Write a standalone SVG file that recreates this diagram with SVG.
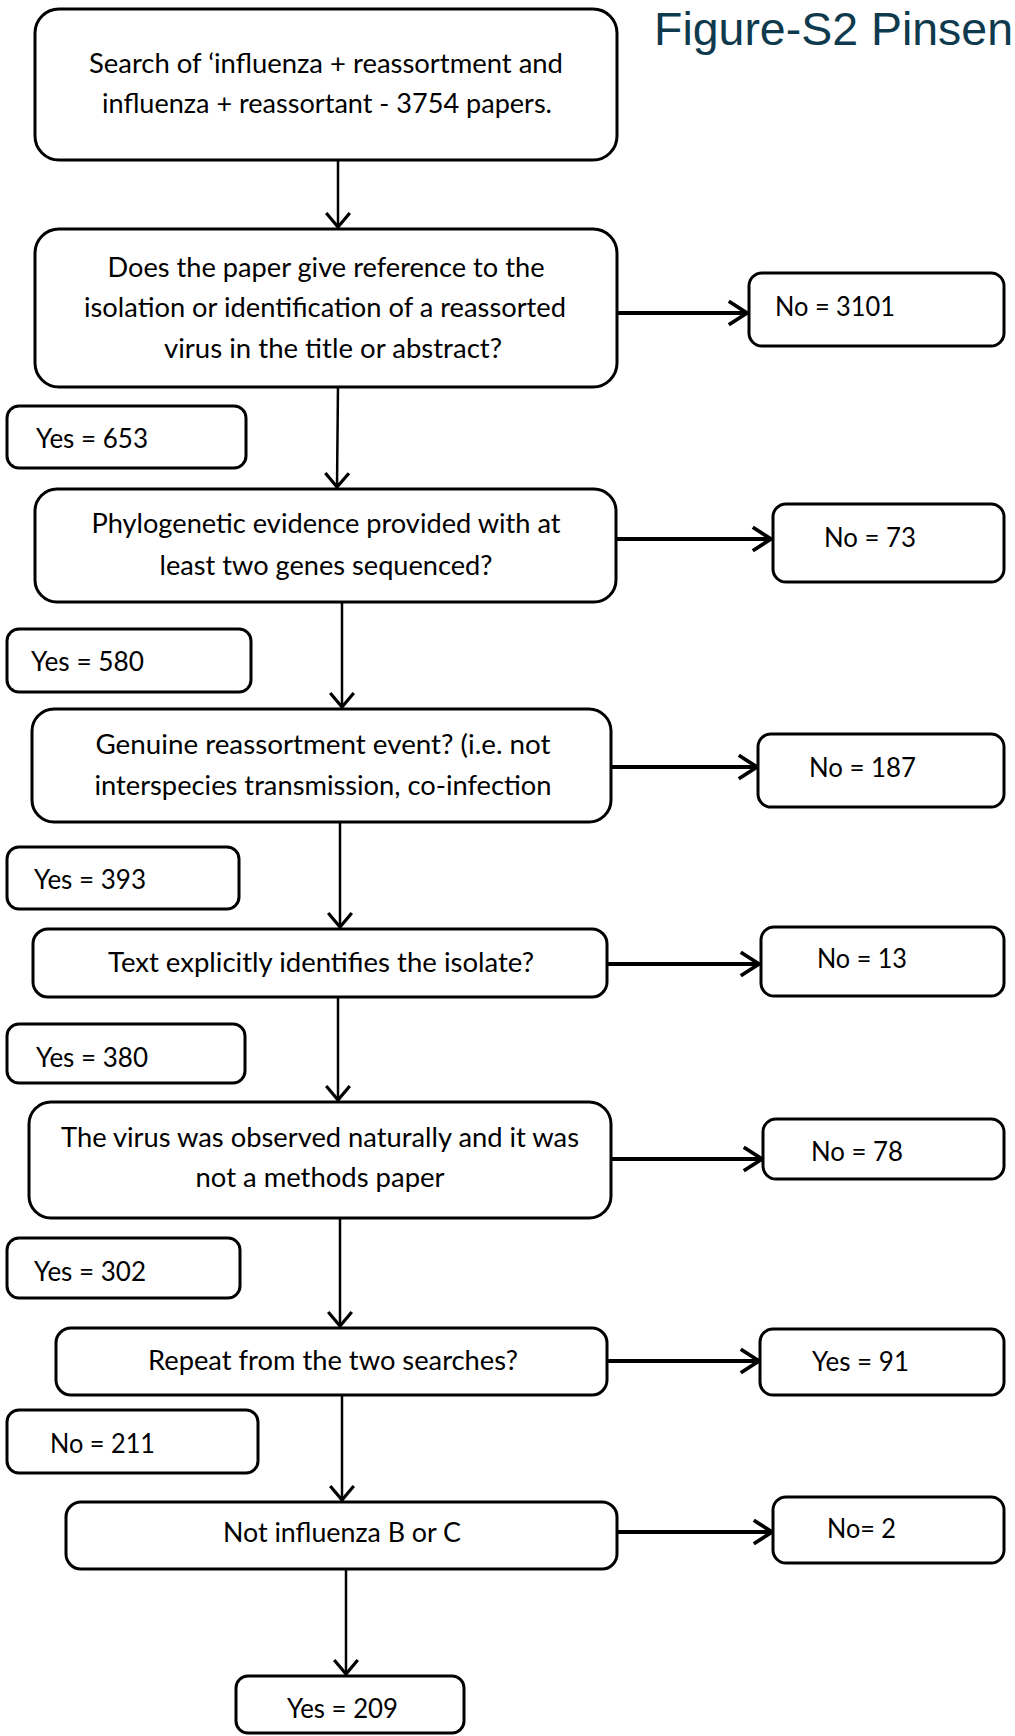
<svg xmlns="http://www.w3.org/2000/svg" width="1015" height="1736" viewBox="0 0 1015 1736">
<style>
  .box { fill: #ffffff; stroke: #000000; stroke-width: 3; }
  .t { font-family: Lato, "Liberation Sans", sans-serif; font-size: 26px; fill: #000000; }
  .c { text-anchor: middle; }
  .v { stroke: #000000; stroke-width: 2.5; fill: none; marker-end: url(#av); }
  .h { stroke: #000000; stroke-width: 4; fill: none; marker-end: url(#ah); }
  .title { font-family: "Liberation Sans", Arial, sans-serif; font-size: 46px; fill: #0f3a4e; }
</style>
<defs>
  <marker id="av" markerUnits="userSpaceOnUse" markerWidth="30" markerHeight="30" viewBox="-16 -14 20 28" refX="0" refY="0" orient="auto">
    <path d="M-13,-11 L0,0 L-13,11" fill="none" stroke="#000000" stroke-width="3"/>
  </marker>
  <marker id="ah" markerUnits="userSpaceOnUse" markerWidth="30" markerHeight="30" viewBox="-20 -14 24 28" refX="0" refY="0" orient="auto">
    <path d="M-17,-11 L0,0 L-17,11" fill="none" stroke="#000000" stroke-width="3.5"/>
  </marker>
</defs>
<rect width="1015" height="1736" fill="#ffffff"/>

<text class="title" x="654" y="45" textLength="359" lengthAdjust="spacingAndGlyphs">Figure-S2 Pinsen</text>

<g id="connectors">
  <path class="v" d="M338,160 L338,227"/>
  <path class="v" d="M338,385 L337,487"/>
  <path class="v" d="M342,602 L342,707"/>
  <path class="v" d="M340,822 L340,927"/>
  <path class="v" d="M338,997 L338,1100"/>
  <path class="v" d="M340,1218 L340,1326"/>
  <path class="v" d="M342,1395 L342,1500"/>
  <path class="v" d="M346,1569 L346,1674"/>
  <path class="h" d="M617,313 L747,313"/>
  <path class="h" d="M616,539 L771,539"/>
  <path class="h" d="M611,767 L757,767"/>
  <path class="h" d="M607,964 L759,964"/>
  <path class="h" d="M611,1159 L762,1159"/>
  <path class="h" d="M607,1361 L759,1361"/>
  <path class="h" d="M617,1532 L772,1532"/>
</g>

<g id="n-search">
  <rect class="box" x="35" y="9" width="582" height="151" rx="24"/>
  <text class="t c" x="326" y="73" textLength="474" lengthAdjust="spacingAndGlyphs">Search of ‘influenza + reassortment and</text>
  <text class="t c" x="327" y="113" textLength="450" lengthAdjust="spacingAndGlyphs">influenza + reassortant - 3754 papers.</text>
</g>

<g id="n-reference">
  <rect class="box" x="35" y="229" width="582" height="158" rx="24"/>
  <text class="t c" x="326" y="277" textLength="437" lengthAdjust="spacingAndGlyphs">Does the paper give reference to the</text>
  <text class="t c" x="325" y="317" textLength="482" lengthAdjust="spacingAndGlyphs">isolation or identification of a reassorted</text>
  <text class="t c" x="333" y="358" textLength="338" lengthAdjust="spacingAndGlyphs">virus in the title or abstract?</text>
</g>

<g id="n-no3101">
  <rect class="box" x="749" y="273" width="255" height="73" rx="13"/>
  <text class="t" x="775" y="316" textLength="120" lengthAdjust="spacingAndGlyphs">No = 3101</text>
</g>

<g id="n-yes653">
  <rect class="box" x="7" y="406" width="239" height="62" rx="12"/>
  <text class="t" x="36" y="448" textLength="112" lengthAdjust="spacingAndGlyphs">Yes = 653</text>
</g>

<g id="n-phylo">
  <rect class="box" x="35" y="489" width="581" height="113" rx="22"/>
  <text class="t c" x="326" y="533" textLength="469" lengthAdjust="spacingAndGlyphs">Phylogenetic evidence provided with at</text>
  <text class="t c" x="326" y="575" textLength="333" lengthAdjust="spacingAndGlyphs">least two genes sequenced?</text>
</g>

<g id="n-no73">
  <rect class="box" x="773" y="504" width="231" height="78" rx="13"/>
  <text class="t" x="824" y="547" textLength="92" lengthAdjust="spacingAndGlyphs">No = 73</text>
</g>

<g id="n-yes580">
  <rect class="box" x="7" y="629" width="244" height="63" rx="12"/>
  <text class="t" x="31" y="671" textLength="113" lengthAdjust="spacingAndGlyphs">Yes = 580</text>
</g>

<g id="n-genuine">
  <rect class="box" x="32" y="709" width="579" height="113" rx="22"/>
  <text class="t c" x="323" y="754" textLength="455" lengthAdjust="spacingAndGlyphs">Genuine reassortment event? (i.e. not</text>
  <text class="t c" x="323" y="795" textLength="457" lengthAdjust="spacingAndGlyphs">interspecies transmission, co-infection</text>
</g>

<g id="n-no187">
  <rect class="box" x="758" y="734" width="246" height="73" rx="13"/>
  <text class="t" x="809" y="777" textLength="107" lengthAdjust="spacingAndGlyphs">No = 187</text>
</g>

<g id="n-yes393">
  <rect class="box" x="7" y="847" width="232" height="62" rx="12"/>
  <text class="t" x="34" y="889" textLength="112" lengthAdjust="spacingAndGlyphs">Yes = 393</text>
</g>

<g id="n-text">
  <rect class="box" x="33" y="929" width="574" height="68" rx="15"/>
  <text class="t c" x="321" y="972" textLength="426" lengthAdjust="spacingAndGlyphs">Text explicitly identifies the isolate?</text>
</g>

<g id="n-no13">
  <rect class="box" x="761" y="927" width="243" height="69" rx="13"/>
  <text class="t" x="817" y="968" textLength="90" lengthAdjust="spacingAndGlyphs">No = 13</text>
</g>

<g id="n-yes380">
  <rect class="box" x="7" y="1024" width="238" height="59" rx="12"/>
  <text class="t" x="36" y="1067" textLength="112" lengthAdjust="spacingAndGlyphs">Yes = 380</text>
</g>

<g id="n-virus">
  <rect class="box" x="29" y="1102" width="582" height="116" rx="22"/>
  <text class="t c" x="320" y="1147" textLength="518" lengthAdjust="spacingAndGlyphs">The virus was observed naturally and it was</text>
  <text class="t c" x="320" y="1187" textLength="249" lengthAdjust="spacingAndGlyphs">not a methods paper</text>
</g>

<g id="n-no78">
  <rect class="box" x="763" y="1119" width="241" height="60" rx="13"/>
  <text class="t" x="811" y="1161" textLength="92" lengthAdjust="spacingAndGlyphs">No = 78</text>
</g>

<g id="n-yes302">
  <rect class="box" x="7" y="1238" width="233" height="60" rx="12"/>
  <text class="t" x="34" y="1281" textLength="112" lengthAdjust="spacingAndGlyphs">Yes = 302</text>
</g>

<g id="n-repeat">
  <rect class="box" x="56" y="1328" width="551" height="67" rx="15"/>
  <text class="t c" x="333" y="1370" textLength="370" lengthAdjust="spacingAndGlyphs">Repeat from the two searches?</text>
</g>

<g id="n-yes91">
  <rect class="box" x="760" y="1329" width="244" height="66" rx="13"/>
  <text class="t" x="812" y="1371" textLength="97" lengthAdjust="spacingAndGlyphs">Yes = 91</text>
</g>

<g id="n-no211">
  <rect class="box" x="7" y="1410" width="251" height="63" rx="12"/>
  <text class="t" x="50" y="1453" textLength="105" lengthAdjust="spacingAndGlyphs">No = 211</text>
</g>

<g id="n-notbc">
  <rect class="box" x="66" y="1502" width="551" height="67" rx="15"/>
  <text class="t c" x="342" y="1542" textLength="238" lengthAdjust="spacingAndGlyphs">Not influenza B or C</text>
</g>

<g id="n-no2">
  <rect class="box" x="773" y="1497" width="231" height="66" rx="13"/>
  <text class="t" x="827" y="1538" textLength="69" lengthAdjust="spacingAndGlyphs">No= 2</text>
</g>

<g id="n-yes209">
  <rect class="box" x="236" y="1676" width="228" height="57" rx="12"/>
  <text class="t" x="287" y="1718" textLength="111" lengthAdjust="spacingAndGlyphs">Yes = 209</text>
</g>
</svg>
